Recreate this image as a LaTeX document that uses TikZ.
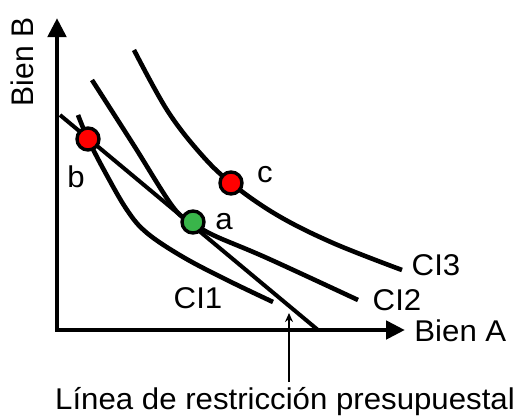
\documentclass[tikz,border=0pt]{standalone}
\usepackage{fontspec}
\setmainfont{Liberation Sans}
\usetikzlibrary{arrows.meta}

\definecolor{dotred}{RGB}{255,0,0}
\definecolor{dotgreen}{RGB}{57,181,74}

\begin{document}
\begin{tikzpicture}[
      x=0.5pt, y=-0.5pt,
      axis/.style={line width=2.35pt, {Triangle[length=9.5pt,width=9pt]}-{Triangle[length=9.5pt,width=9pt]}},
      curve/.style={line width=2.3pt},
      budget/.style={line width=2pt},
      dot/.style={circle, draw, line width=1.7pt, minimum size=11pt, inner sep=0pt},
      lbl/.style={font=\fontsize{15}{17}\selectfont, inner sep=0pt, xscale=1.04},
      pointer/.style={line width=1.1pt, -{Stealth[length=4.5pt,width=4pt]}},
    ]
    \useasboundingbox (0,0) rectangle (525,419);

    % axes
    \coordinate (origin) at (57,330);
    \coordinate (ytop)   at (57,18);
    \coordinate (xend)   at (405,330);
    \draw[axis] (ytop) -- (origin) -- (xend);
    \node[lbl, anchor=west] (bienA) at (414,331) {Bien A};
    \node[lbl, rotate=90] (bienB) at (22,62) {Bien B};

    % indifference curves
    \draw[curve] plot[smooth, tension=0.6] coordinates
      {(78,115) (88,139) (105,172) (127,210) (147,233) (183,257) (227,280) (273,302)};
    \draw[curve] plot[smooth, tension=0.6] coordinates
      {(92,80) (133,144) (173,207) (192,222) (213,235) (267,258) (358,300)};
    \draw[curve] plot[smooth, tension=0.6] coordinates
      {(134,50) (167,110) (200,153) (231,183) (277,215) (333,243) (402,270)};
    \node[lbl] (ci1) at (198,298) {CI1};
    \node[lbl] (ci2) at (397,300) {CI2};
    \node[lbl] (ci3) at (436,265) {CI3};

    % budget line
    \coordinate (bstart) at (60,115);
    \coordinate (bend)   at (318,330);
    \draw[budget] (bstart) -- (bend);

    % points
    \node[dot, fill=dotred]   (b) at (88,139)  {};
    \node[dot, fill=dotgreen] (a) at (193,222) {};
    \node[dot, fill=dotred]   (c) at (231,183) {};
    \node[lbl] (blbl) at (76,177) {b};
    \node[lbl] (albl) at (224,222) {a};
    \node[lbl] (clbl) at (265,175) {c};

    % label for the budget line
    \node[lbl] (note) at (285,402) {Línea de restricción presupuestal};
    \coordinate (tail) at (289,382);
    \coordinate (tip)  at (289,313);
    \draw[pointer] (tail) -- (tip);
  \end{tikzpicture}
\end{document}
